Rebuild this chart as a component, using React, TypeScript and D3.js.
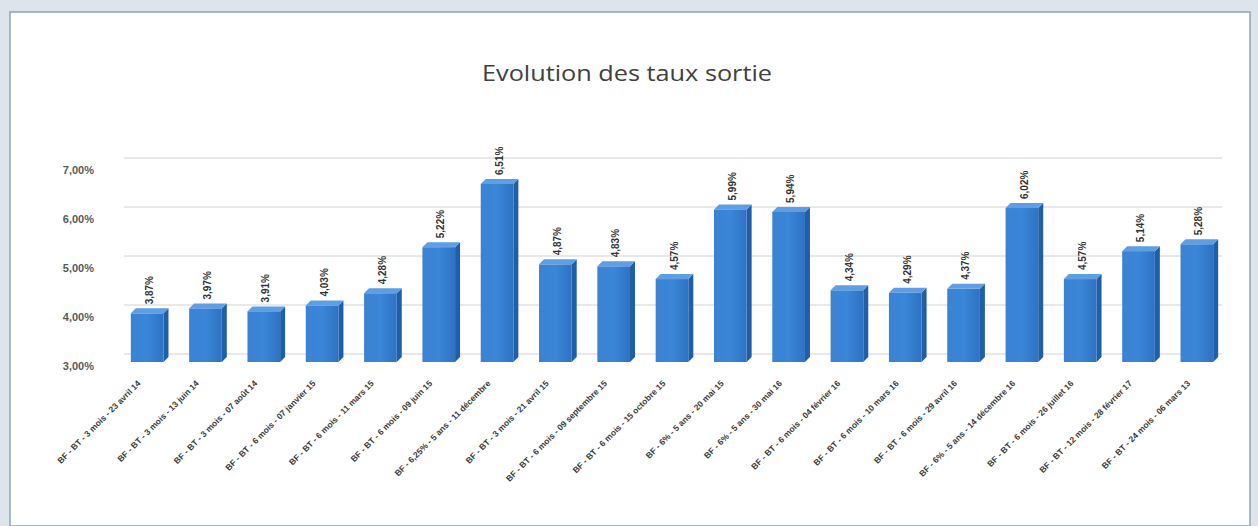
import React from "react";
import * as d3 from "d3";

const categories: string[] = [
  "BF - BT - 3 mois - 23 avril 14",
  "BF - BT - 3 mois - 13 juin 14",
  "BF - BT - 3 mois - 07 août 14",
  "BF - BT - 6 mois - 07 janvier 15",
  "BF - BT - 6 mois - 11 mars 15",
  "BF - BT - 6 mois - 09 juin 15",
  "BF - 6,25% - 5 ans - 11 décembre",
  "BF - BT - 3 mois - 21 avril 15",
  "BF - BT - 6 mois - 09 septembre 15",
  "BF - BT - 6 mois - 15 octobre 15",
  "BF - 6% - 5 ans - 20 mai 15",
  "BF - 6% - 5 ans - 30 mai 16",
  "BF - BT - 6 mois - 04 février 16",
  "BF - BT - 6 mois - 10 mars 16",
  "BF - BT - 6 mois - 29 avril 16",
  "BF - 6% - 5 ans - 14 décembre 16",
  "BF - BT - 6 mois - 26 juillet 16",
  "BF - BT - 12 mois - 28 février 17",
  "BF - BT - 24 mois - 06 mars 13",
];

const values: number[] = [
  3.87, 3.97, 3.91, 4.03, 4.28, 5.22, 6.51, 4.87, 4.83, 4.57, 5.99, 5.94, 4.34,
  4.29, 4.37, 6.02, 4.57, 5.14, 5.28,
];

const yTicks: number[] = [3, 4, 5, 6, 7];

const W = 1258;
const H = 526;

const fmt = (v: number) => v.toFixed(2).replace(".", ",") + "%";

export default function App() {
  const x = d3
    .scaleBand<string>()
    .domain(categories)
    .range([118, 1226])
    .paddingInner(0.44)
    .paddingOuter(0.22);
  const y = d3.scaleLinear().domain([3, 7]).range([356, 160]);
  const bw = x.bandwidth();
  const depth = 5;
  const baseY = 362;

  return (
    <div style={{ position: "fixed", left: 0, top: 0 }}>
      <svg width={W} height={H} style={{ display: "block" }}>
        <defs>
          <linearGradient id="front" x1="0" x2="1" y1="0" y2="0">
            <stop offset="0" stopColor="#3c82d2" />
            <stop offset="0.5" stopColor="#3a86d8" />
            <stop offset="1" stopColor="#2f72c2" />
          </linearGradient>
        </defs>
        <rect x={0} y={0} width={W} height={H} fill="#dde4ec" />
        <rect x={10} y={12} width={1240} height={H - 12} fill="#ffffff" stroke="#8fa3bb" strokeWidth={1.5} />
        <text
          x={627}
          y={81}
          textAnchor="middle"
          fontFamily="Open Sans, sans-serif"
          fontSize={22}
          textLength={290}
          lengthAdjust="spacingAndGlyphs"
          fill="#404040"
        >
          Evolution des taux sortie
        </text>
        {yTicks.map((t) => (
          <g key={t}>
            <line x1={124} x2={1222} y1={y(t) - 2} y2={y(t) - 2} stroke="#d2d2d2" strokeWidth={1} />
            <text
              x={94}
              y={y(t) + 11}
              textAnchor="end"
              dominantBaseline="middle"
              fontFamily="Liberation Sans, Arial, sans-serif"
              fontSize={11}
              fontWeight="bold"
              fill="#595959"
            >
              {fmt(t)}
            </text>
          </g>
        ))}
        {categories.map((c, i) => {
          const x0 = x(c) as number;
          const top = y(values[i]);
          const cx = x0 + bw / 2;
          return (
            <g key={c}>
              <polygon
                points={`${x0 + bw},${top} ${x0 + bw + depth},${top - depth} ${x0 + bw + depth},${baseY - depth} ${x0 + bw},${baseY}`}
                fill="#1f5ea8"
              />
              <polygon
                points={`${x0},${top} ${x0 + depth},${top - depth} ${x0 + bw + depth},${top - depth} ${x0 + bw},${top}`}
                fill="#5d9ee4"
              />
              <rect x={x0} y={top} width={bw} height={baseY - top} fill="url(#front)" />
              <text
                transform={`translate(${cx + 3},${top - 9}) rotate(-90)`}
                textAnchor="start"
                dominantBaseline="middle"
                fontFamily="Liberation Sans, Arial, sans-serif"
                fontSize={10}
                fontWeight="bold"
                fill="#333333"
              >
                {fmt(values[i])}
              </text>
              <text
                transform={`translate(${cx - 6},${baseY + 22}) rotate(-45)`}
                textAnchor="end"
                fontFamily="Liberation Sans, Arial, sans-serif"
                fontSize={8.5}
                fontWeight="bold"
                fill="#3a3a3a"
              >
                {c}
              </text>
            </g>
          );
        })}
      </svg>
    </div>
  );
}
